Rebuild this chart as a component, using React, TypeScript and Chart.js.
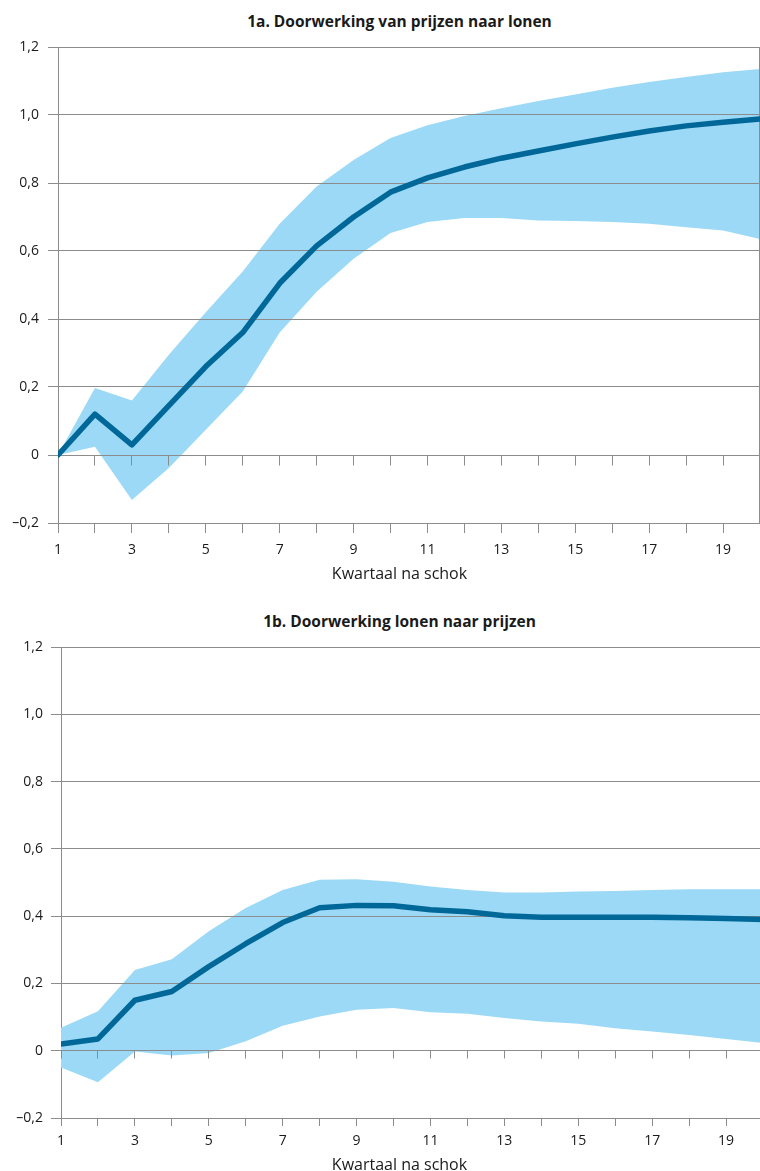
import React, { useEffect, useRef } from 'react';
import { Chart, registerables } from 'chart.js';

Chart.register(...registerables);

// ---- data ----
const quarters = [1, 2, 3, 4, 5, 6, 7, 8, 9, 10, 11, 12, 13, 14, 15, 16, 17, 18, 19, 20];

const pricesToWagesTitle = '1a. Doorwerking van prijzen naar lonen';
const pricesToWagesMean = [0, 0.12, 0.03, 0.145, 0.26, 0.36, 0.505, 0.615, 0.70, 0.773, 0.815, 0.847, 0.873, 0.894, 0.915, 0.935, 0.953, 0.968, 0.979, 0.988];
const pricesToWagesUpper = [0, 0.197, 0.16, 0.295, 0.42, 0.54, 0.68, 0.79, 0.868, 0.932, 0.97, 0.997, 1.02, 1.041, 1.06, 1.08, 1.097, 1.112, 1.126, 1.135];
const pricesToWagesLower = [0, 0.024, -0.132, -0.038, 0.074, 0.187, 0.36, 0.48, 0.577, 0.653, 0.685, 0.697, 0.697, 0.69, 0.688, 0.685, 0.68, 0.67, 0.66, 0.635];

const wagesToPricesTitle = '1b. Doorwerking lonen naar prijzen';
const wagesToPricesMean = [0.02, 0.035, 0.15, 0.176, 0.25, 0.318, 0.381, 0.425, 0.432, 0.431, 0.419, 0.413, 0.401, 0.397, 0.397, 0.397, 0.397, 0.395, 0.393, 0.39];
const wagesToPricesUpper = [0.068, 0.117, 0.24, 0.272, 0.355, 0.424, 0.478, 0.508, 0.51, 0.502, 0.488, 0.478, 0.47, 0.47, 0.473, 0.475, 0.478, 0.48, 0.48, 0.48];
const wagesToPricesLower = [-0.05, -0.094, -0.002, -0.014, -0.007, 0.028, 0.074, 0.102, 0.122, 0.127, 0.114, 0.11, 0.097, 0.087, 0.08, 0.067, 0.057, 0.047, 0.035, 0.023];

const xAxisTitle = 'Kwartaal na schok';
const xLabelledQuarters = [1, 3, 5, 7, 9, 11, 13, 15, 17, 19];
const yTickValues = [-0.2, 0, 0.2, 0.4, 0.6, 0.8, 1.0, 1.2];
const yTickLabels = ['–0,2', '0', '0,2', '0,4', '0,6', '0,8', '1,0', '1,2'];

// ---- styles ----
const LINE_COLOR = '#006898';
const BAND_COLOR = '#9bd9f6';
const GRID_COLOR = '#8c8c8c';
const TEXT_COLOR = '#1a1a1a';
const FONT = '"Open Sans", "Noto Sans", sans-serif';

function alignPx(p: number) {
  return Math.round(p - 0.5) + 0.5;
}

const overlayPlugin = {
  id: 'overlay',
  afterDatasetDraw(chart: any, args: any, opts: any) {
    if (args.index !== 1) return;
    const { ctx, chartArea, scales } = chart;
    const x = scales.x;
    const y = scales.y;
    ctx.save();
    ctx.strokeStyle = GRID_COLOR;
    ctx.lineWidth = 1;
    ctx.beginPath();
    y.ticks.forEach((t: any) => {
      const py = alignPx(y.getPixelForValue(t.value));
      ctx.moveTo(chartArea.left, py);
      ctx.lineTo(chartArea.right, py);
    });
    const p0 = alignPx(y.getPixelForValue(0));
    x.ticks.forEach((t: any) => {
      const px = alignPx(x.getPixelForValue(t.value));
      ctx.moveTo(px, p0);
      ctx.lineTo(px, p0 + (opts.zeroTickLen || 9));
    });
    if (opts.rightBorder) {
      const px = chartArea.right - 0.5;
      ctx.moveTo(px, chartArea.top);
      ctx.lineTo(px, chartArea.bottom);
    }
    ctx.stroke();
    ctx.restore();
  },
};

type PanelProps = {
  title: string;
  mean: number[];
  upper: number[];
  lower: number[];
  width: number;
  height: number;
  top: number;
  plotTop: number;
  plotBottom: number;
  yAxisWidth: number;
  xTickLen: number;
  xTickPad: number;
  yTickPad: number;
  rightBorder: boolean;
  titleCenterX: number;
  titleMidY: number;
  xTitleMidY: number;
};

function Panel(p: PanelProps) {
  const ref = useRef<HTMLCanvasElement | null>(null);
  useEffect(() => {
    if (!ref.current) return;
    const chart = new Chart(ref.current, {
      type: 'line',
      data: {
        labels: quarters,
        datasets: [
          {
            data: quarters.map((q, i) => ({ x: q, y: p.mean[i] })),
            borderColor: LINE_COLOR,
            borderWidth: 5.5,
            borderCapStyle: 'round',
            borderJoinStyle: 'round',
            pointRadius: 0,
            tension: 0,
            fill: false,
          },
          {
            data: quarters.map((q, i) => ({ x: q, y: p.upper[i] })),
            borderWidth: 0,
            borderColor: 'rgba(0,0,0,0)',
            backgroundColor: BAND_COLOR,
            pointRadius: 0,
            tension: 0,
            fill: '+1',
          },
          {
            data: quarters.map((q, i) => ({ x: q, y: p.lower[i] })),
            borderWidth: 0,
            borderColor: 'rgba(0,0,0,0)',
            pointRadius: 0,
            tension: 0,
            fill: false,
          },
        ],
      } as any,
      options: {
        responsive: false,
        animation: false,
        events: [],
        layout: { padding: { left: 0, right: 0, top: p.plotTop, bottom: 0 } },
        plugins: {
          legend: { display: false },
          tooltip: { enabled: false },
          title: { display: false },
          overlay: { zeroTickLen: p.xTickLen, rightBorder: p.rightBorder },
        } as any,
        scales: {
          x: {
            type: 'linear',
            min: 1,
            max: 20,
            afterBuildTicks: (s: any) => {
              s.ticks = quarters.map((q) => ({ value: q }));
            },
            afterFit: (s: any) => {
              s.height = p.height - p.plotBottom;
              s.paddingRight = 0;
              s.paddingLeft = 0;
            },
            ticks: {
              autoSkip: false,
              maxRotation: 0,
              padding: p.xTickPad,
              color: TEXT_COLOR,
              font: { family: FONT, size: 14 },
              callback: (v: any) => (xLabelledQuarters.includes(Number(v)) ? String(v) : ''),
            },
            grid: {
              drawOnChartArea: false,
              drawTicks: true,
              tickLength: p.xTickLen,
              color: GRID_COLOR,
              lineWidth: 1,
            },
            border: { display: true, color: GRID_COLOR, width: 1 },
            title: { display: false },
          },
          y: {
            type: 'linear',
            min: -0.2,
            max: 1.2,
            afterBuildTicks: (s: any) => {
              s.ticks = yTickValues.map((v) => ({ value: v }));
            },
            afterFit: (s: any) => {
              s.width = p.yAxisWidth;
            },
            ticks: {
              padding: p.yTickPad,
              color: TEXT_COLOR,
              font: { family: FONT, size: 14 },
              callback: (v: any) => {
                const i = yTickValues.findIndex((t) => Math.abs(t - Number(v)) < 1e-9);
                return i >= 0 ? yTickLabels[i] : '';
              },
            },
            grid: {
              drawOnChartArea: true,
              drawTicks: true,
              tickLength: 10,
              color: GRID_COLOR,
              lineWidth: 1,
            },
            border: { display: true, color: GRID_COLOR, width: 1 },
          },
        },
      } as any,
      plugins: [overlayPlugin],
    });
    return () => chart.destroy();
  }, []);
  const textBase: any = {
    position: 'absolute',
    left: 0,
    width: p.titleCenterX * 2,
    height: 20,
    lineHeight: '20px',
    textAlign: 'center',
    fontFamily: FONT,
    color: TEXT_COLOR,
    whiteSpace: 'nowrap',
  };
  return (
    <>
      <div style={{ ...textBase, top: p.top + p.titleMidY - 10, fontWeight: 700, fontSize: 15.5 }}>
        {p.title}
      </div>
      <canvas
        ref={ref}
        width={p.width}
        height={p.height}
        style={{ position: 'absolute', left: 0, top: p.top, width: p.width, height: p.height }}
      />
      <div style={{ ...textBase, top: p.top + p.xTitleMidY - 10, fontWeight: 400, fontSize: 16 }}>
        {xAxisTitle}
      </div>
    </>
  );
}

export default function App() {
  return (
    <div
      style={{
        position: 'absolute',
        left: 0,
        top: 0,
        width: 760,
        height: 1171,
        overflow: 'hidden',
        background: '#fff',
      }}
    >
      <Panel
        title={pricesToWagesTitle}
        mean={pricesToWagesMean}
        upper={pricesToWagesUpper}
        lower={pricesToWagesLower}
        width={760}
        height={590}
        top={0}
        plotTop={47}
        plotBottom={523}
        yAxisWidth={58}
        xTickLen={10}
        xTickPad={9}
        yTickPad={9}
        rightBorder={true}
        titleCenterX={399.5}
        titleMidY={21}
        xTitleMidY={573}
      />
      <Panel
        title={wagesToPricesTitle}
        mean={wagesToPricesMean}
        upper={wagesToPricesUpper}
        lower={wagesToPricesLower}
        width={763}
        height={580}
        top={600}
        plotTop={47}
        plotBottom={518}
        yAxisWidth={61}
        xTickLen={8}
        xTickPad={7}
        yTickPad={8}
        rightBorder={false}
        titleCenterX={399.5}
        titleMidY={21}
        xTitleMidY={564}
      />
    </div>
  );
}
